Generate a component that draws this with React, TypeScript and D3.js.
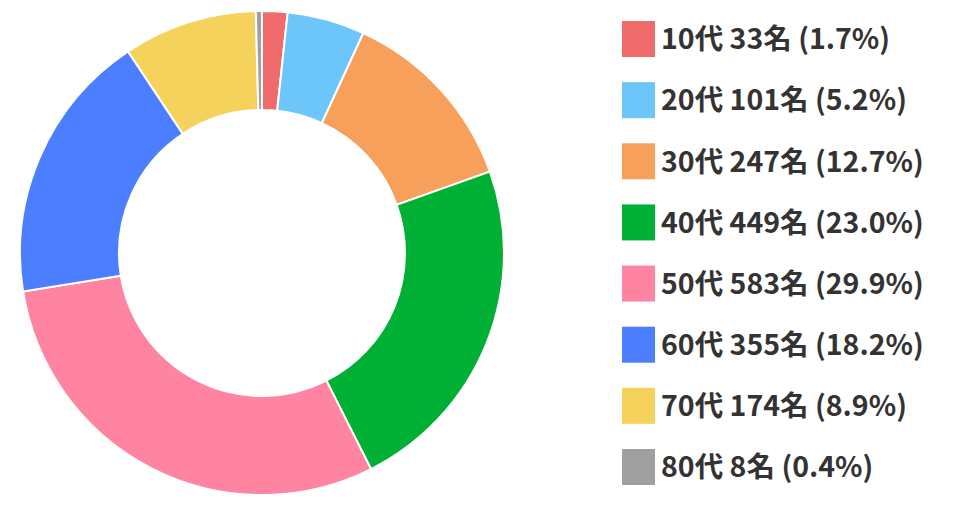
import React from 'react';
import * as d3 from 'd3';

const ages = ['10代', '20代', '30代', '40代', '50代', '60代', '70代', '80代'];
const counts = [33, 101, 247, 449, 583, 355, 174, 8];
const percents = ['1.7', '5.2', '12.7', '23.0', '29.9', '18.2', '8.9', '0.4'];
const colors = ['#f06b6b', '#6cc6fa', '#f7a05c', '#00b035', '#ff84a1', '#4c7fff', '#f5d25b', '#a0a0a0'];

const W = 970;
const H = 508;

const App = () => {
  const cx = 262;
  const cy = 253;
  const outerR = 242;
  const innerR = 143;

  const pie = d3.pie<number>().sort(null).value(d => d).startAngle(0).endAngle(2 * Math.PI);
  const arcs = pie(counts);
  const arc = d3.arc<d3.PieArcDatum<number>>().innerRadius(innerR).outerRadius(outerR);

  const legendY = d3.scalePoint<string>().domain(ages).range([39, 467]);

  return (
    <svg width={W} height={H} style={{ position: 'absolute', left: 0, top: 0, background: '#fff' }}>
      <g transform={`translate(${cx},${cy})`}>
        {arcs.map((a, i) => (
          <path key={ages[i]} d={arc(a) || ''} fill={colors[i]} stroke="#fff" strokeWidth={2} />
        ))}
      </g>
      <g>
        {ages.map((age, i) => {
          const y = legendY(age) || 0;
          return (
            <g key={age} transform={`translate(622,${y})`}>
              <rect x={0} y={-18} width={33} height={36} fill={colors[i]} />
              <text
                x={39}
                y={0}
                dy="0.36em"
                fontFamily="'Noto Sans CJK JP', 'Noto Sans', sans-serif"
                fontWeight="bold"
                fontSize={28.5}
                fill="#333"
              >
                {`${age} ${counts[i]}名 (${percents[i]}%)`}
              </text>
            </g>
          );
        })}
      </g>
    </svg>
  );
};

export default App;
